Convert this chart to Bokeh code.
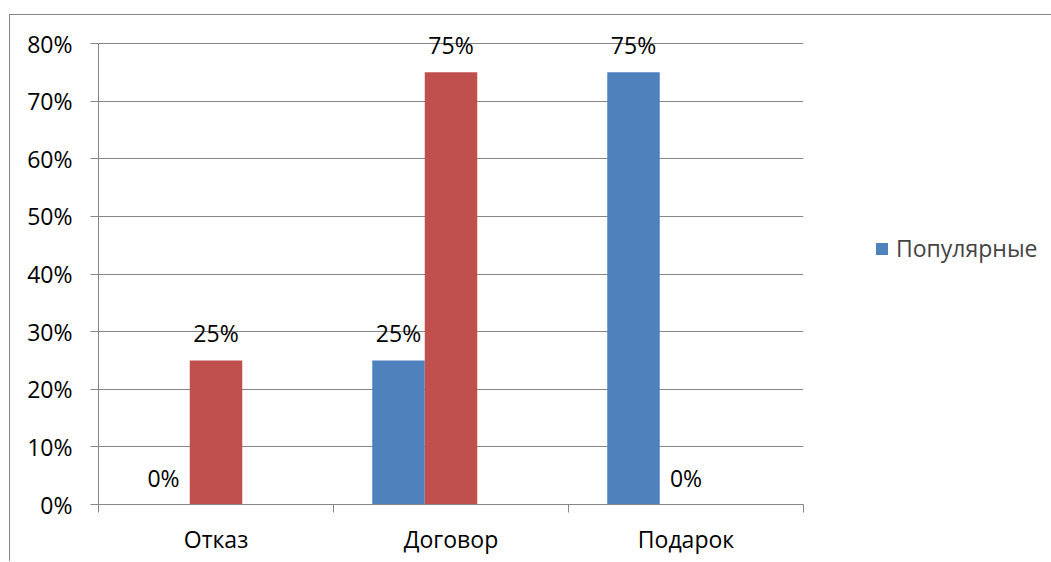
from bokeh.plotting import figure
from bokeh.models import (ColumnDataSource, Range1d, FixedTicker, NumeralTickFormatter,
                          LabelSet, Legend, LegendItem)
from bokeh.core.properties import value
from bokeh.embed import file_html
from bokeh.resources import INLINE

# ---- data ----
categories = ["Отказ", "Договор", "Подарок"]
popular = [0.0, 0.25, 0.75]          # blue series "Популярные"
second = [0.25, 0.75, 0.0]           # red series
series_name = "Популярные"
y_ticks = [0.0, 0.1, 0.2, 0.3, 0.4, 0.5, 0.6, 0.7, 0.8]

BLUE = "#4F81BD"
RED = "#C0504D"
GRID = "#868686"
FONT = "Open Sans"
FS = "23px"

n = len(categories)
centers = [i + 0.5 for i in range(n)]
bar_w = 0.2234

plot_h = 461          # pixel height of the 0..80% span
frame_h = 489         # frame extends above 80% so that top labels are not clipped
y_end = y_ticks[-1] * frame_h / plot_h

def pct(v):
    return f"{round(v * 100):d}%"

src_b = ColumnDataSource(dict(x=[c - bar_w for c in centers], top=popular,
                              lab=[pct(v) for v in popular]))
src_r = ColumnDataSource(dict(x=centers, top=second,
                              lab=[pct(v) for v in second]))

p = figure(frame_width=705, frame_height=frame_h,
           min_border_left=88, min_border_top=0, min_border_bottom=57, min_border_right=247,
           x_range=Range1d(0, n), y_range=Range1d(0, y_end),
           output_backend="svg", toolbar_location=None, tools="")
p.margin = (14, 0, 0, 9)
p.styles = {"border-left": "1px solid #868686", "border-top": "1px solid #868686"}
p.outline_line_color = None
p.background_fill_color = "white"
p.border_fill_color = "white"

rb = p.vbar(x="x", top="top", width=bar_w, source=src_b, fill_color=BLUE, line_color=None)
rr = p.vbar(x="x", top="top", width=bar_w, source=src_r, fill_color=RED, line_color=None)

for src in (src_b, src_r):
    p.add_layout(LabelSet(x="x", y="top", text="lab", source=src, y_offset=27,
                          text_align="center", text_baseline="middle",
                          text_font=value(FONT), text_font_size=value(FS), text_color="black"))

# y axis
p.yaxis.ticker = FixedTicker(ticks=y_ticks)
p.yaxis.bounds = (y_ticks[0], y_ticks[-1])
p.yaxis.formatter = NumeralTickFormatter(format="0%")
p.yaxis.axis_line_color = GRID
p.yaxis.major_tick_line_color = GRID
p.yaxis.major_tick_out = 8
p.yaxis.major_tick_in = 0
p.yaxis.minor_tick_line_color = None
p.yaxis.major_label_standoff = 18
p.yaxis.major_label_text_font = FONT
p.yaxis.major_label_text_font_size = FS
p.yaxis.major_label_text_color = "black"

# x axis: labels at centers, ticks at boundaries
p.xaxis.ticker = FixedTicker(ticks=centers, minor_ticks=list(range(n + 1)))
p.xaxis.major_label_overrides = {c: cat for c, cat in zip(centers, categories)}
p.xaxis.axis_line_color = GRID
p.xaxis.major_tick_line_color = None
p.xaxis.major_tick_out = 0
p.xaxis.major_tick_in = 0
p.xaxis.minor_tick_line_color = GRID
p.xaxis.minor_tick_out = 8
p.xaxis.minor_tick_in = 0
p.xaxis.major_label_standoff = 10
p.xaxis.major_label_text_font = FONT
p.xaxis.major_label_text_font_size = FS
p.xaxis.major_label_text_color = "black"

p.xgrid.grid_line_color = None
p.ygrid.ticker = FixedTicker(ticks=y_ticks)
p.ygrid.grid_line_color = GRID
p.ygrid.grid_line_width = 1

legend = Legend(items=[LegendItem(label=series_name, renderers=[rb])],
                location=(71, 240), border_line_color=None, background_fill_alpha=0,
                label_text_font=FONT, label_text_font_size=FS, label_standoff=7,
                glyph_width=15, glyph_height=15, padding=10, margin=0, spacing=0)
p.add_layout(legend, "right")

open("out.html", "w").write(file_html(p, INLINE))
